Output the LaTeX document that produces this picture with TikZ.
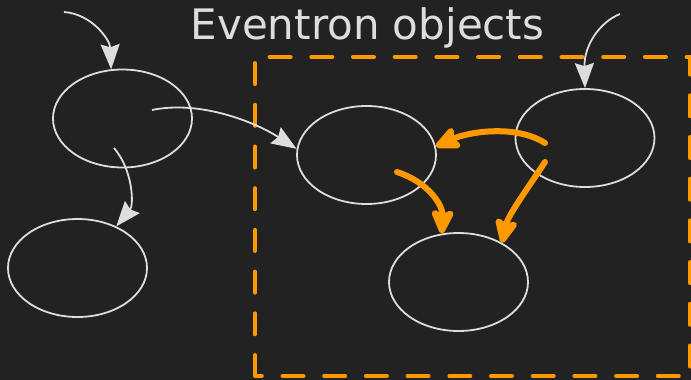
\documentclass[tikz,border=0pt]{standalone}
\usepackage{fontspec}
\setmainfont{DejaVu Sans}
\usetikzlibrary{arrows.meta,shapes.geometric,calc}
\definecolor{bg}{HTML}{222222}
\definecolor{fg}{HTML}{DDDDDD}
\definecolor{og}{HTML}{FF9900}
\begin{document}
\begin{tikzpicture}[x=1pt,y=-1pt,
  obj/.style={draw=fg, line width=1.8pt, ellipse, minimum width=139pt, minimum height=98pt, inner sep=0pt},
  lightarrow/.style={draw=fg, line width=1.8pt, -{Stealth[length=25pt,width=19pt,inset=3pt]}},
  orangearrow/.style={draw=og, line width=6pt, line cap=round, -{Stealth[length=30pt,width=27pt,inset=6pt,round]}},
  groupbox/.style={draw=og, line width=4pt, line cap=round, dash pattern=on 21pt off 20.7pt}]
\useasboundingbox (0,0) rectangle (691,380);
\fill[bg] (0,0) rectangle (691,380);
\begin{scope}
\clip (0,0) rectangle (691,380);
\draw[groupbox] (255,376) -- (255,57) -- (690,57) -- (690,376) -- cycle;
\end{scope}
\node[anchor=base, text=fg, inner sep=0pt, font=\fontsize{42}{42}\selectfont] (title) at (367.5,39) {Eventron objects};
\node[obj] (A) at (122.5,118.5) {};
\node[obj] (B) at (77.5,268) {};
\node[obj] (C) at (366.5,155) {};
\node[obj] (D) at (585,138) {};
\node[obj] (E) at (458.5,282) {};
\coordinate (s1) at (64,12);
\coordinate (s4) at (620,14);
\draw[lightarrow] (s1) .. controls (92,14) and (110,40) .. (A.103);
\draw[lightarrow] ($(A.center)+(29.5,-8.5)$) .. controls (200,100) and (255,122) .. (C.175);
\draw[lightarrow] ($(A.center)+(-8.5,29.5)$) .. controls (133,170) and (134,205) .. (B.47);
\draw[lightarrow] (s4) .. controls (600,22) and (584,45) .. (D.north);
\draw[orangearrow] ($(D.center)+(-40,5)$) .. controls (515,124) and (468,132) .. (C.7);
\draw[orangearrow] ($(C.center)+(30.5,17)$) .. controls (428,182) and (443,205) .. (E.109);
\draw[orangearrow] ($(D.center)+(-40,24)$) .. controls (530,185) and (508,215) .. (E.42);
\end{tikzpicture}
\end{document}
